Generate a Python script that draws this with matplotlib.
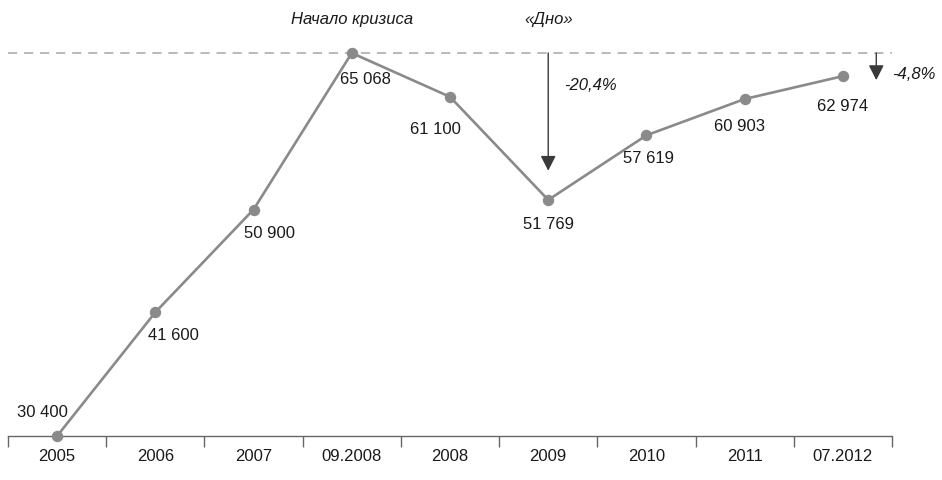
import matplotlib
matplotlib.use("Agg")
import matplotlib.pyplot as plt
import numpy as np

plt.rcParams['font.family'] = ['Liberation Sans', 'DejaVu Sans']

# Average salary series
periods = ["2005", "2006", "2007", "09.2008", "2008", "2009", "2010", "2011", "07.2012"]
values = [30400, 41600, 50900, 65068, 61100, 51769, 57619, 60903, 62974]
value_labels = ["30 400", "41 600", "50 900", "65 068", "61 100", "51 769", "57 619", "60 903", "62 974"]

# label offsets from each point, in pixels
label_offsets = [(-15, 24), (18, -22), (16, -23), (14, -26), (-15, -32),
                 (0, -24), (2, -22), (-5, -26), (0, -29)]

peak_label = "Начало кризиса"
bottom_label = "«Дно»"
drop_label = "-20,4%"
current_label = "-4,8%"

line_color = "#8a8a8a"
text_color = "#1a1a1a"
fs = 12

fig = plt.figure(figsize=(9.42, 4.81), dpi=100)
ax = fig.add_axes([8 / 942, 44 / 481, 884 / 942, 383 / 481])

x = np.arange(len(periods))
peak = max(values)
ax.set_xlim(-0.5, len(periods) - 0.5)
ax.set_ylim(min(values), peak)

ax.plot(x, values, color=line_color, lw=1.9, marker="o", ms=7.2,
        mfc=line_color, mec=line_color, clip_on=False, zorder=3)

for xi, v, lab, (dx, dy) in zip(x, values, value_labels, label_offsets):
    ax.annotate(lab, (xi, v), xytext=(dx, dy), textcoords="offset pixels",
                ha="center", va="center", fontsize=fs, color=text_color,
                annotation_clip=False)

# reference level at the pre-crisis peak
ax.plot([-0.5, len(periods) - 0.5], [peak, peak], color="#a6a6a6", lw=1.1,
        dashes=(6, 4.5), clip_on=False, zorder=1)

i_peak = values.index(peak)
i_bottom = values.index(min(values[i_peak:]))
ax.annotate(peak_label, (i_peak, peak), xytext=(0, 34), textcoords="offset pixels",
            ha="center", va="center", fontsize=fs, style="italic",
            color=text_color, annotation_clip=False)
ax.annotate(bottom_label, (i_bottom, peak), xytext=(0, 34), textcoords="offset pixels",
            ha="center", va="center", fontsize=fs, style="italic",
            color=text_color, annotation_clip=False)

arrow = dict(arrowstyle="-|>,head_length=0.65,head_width=0.33", color="#3a3a3a",
             lw=1.0, shrinkA=0, shrinkB=0, mutation_scale=14)

# drop from peak to the bottom
ax.annotate("", xy=(i_bottom, values[i_bottom]), xytext=(i_bottom, peak),
            arrowprops=dict(arrow, shrinkB=21), annotation_clip=False)
ax.annotate(drop_label, (i_bottom, peak), xytext=(16, -32), textcoords="offset pixels",
            ha="left", va="center", fontsize=fs, style="italic",
            color=text_color, annotation_clip=False)

# current gap to the peak
x_last = len(periods) - 1 + 0.34
tip = values[-1] - 360
ax.annotate("", xy=(x_last, tip), xytext=(x_last, peak),
            arrowprops=arrow, annotation_clip=False)
ax.annotate(current_label, (x_last, peak), xytext=(16, -21), textcoords="offset pixels",
            ha="left", va="center", fontsize=fs, style="italic",
            color=text_color, annotation_clip=False)

# category axis with boundary ticks
for s in ["top", "right", "left"]:
    ax.spines[s].set_visible(False)
ax.spines["bottom"].set_color("#666666")
ax.spines["bottom"].set_linewidth(1.0)
ax.set_yticks([])
ax.set_xticks(np.arange(-0.5, len(periods)), labels=[])
ax.tick_params(axis="x", which="major", length=8, color="#666666", width=1.0, direction="out")
ax.set_xticks(x, labels=periods, minor=True)
ax.tick_params(axis="x", which="minor", length=0, pad=9, labelsize=fs, labelcolor=text_color)

fig.savefig("out.png", dpi=100)
